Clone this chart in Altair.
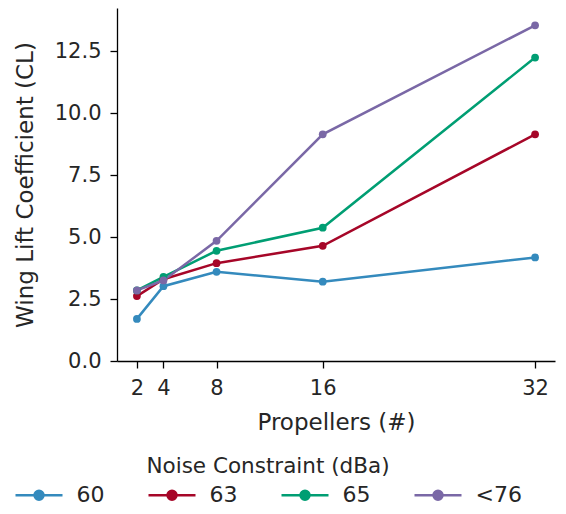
import altair as alt
import pandas as pd

propellers = [2, 4, 8, 16, 32]
series_names = ["60", "63", "65", "<76"]
cl_60 = [1.7, 3.02, 3.6, 3.2, 4.18]
cl_63 = [2.62, 3.3, 3.95, 4.65, 9.15]
cl_65 = [2.85, 3.4, 4.45, 5.38, 12.25]
cl_76 = [2.85, 3.25, 4.85, 9.15, 13.55]
colors = ["#348ABD", "#A60628", "#009E73", "#7A68A6"]
y_ticks = [0, 2.5, 5, 7.5, 10, 12.5]

rows = []
for name, vals in zip(series_names, [cl_60, cl_63, cl_65, cl_76]):
    for p, v in zip(propellers, vals):
        rows.append({"Noise": name, "Propellers": p, "CL": v})
df = pd.DataFrame(rows)

FONT = "DejaVu Sans"
TXT = "#262626"
FS = 21

legend = alt.Legend(
    title="Noise Constraint (dBa)",
    orient="none",
    legendX=-103,
    legendY=448,
    direction="horizontal",
    columns=4,
    padding=0,
    titleAnchor="middle",
    titleFont=FONT,
    titleFontSize=21.5,
    titleFontWeight="normal",
    titleColor=TXT,
    titleLimit=1000,
    titlePadding=6,
    labelFont=FONT,
    labelFontSize=22,
    labelColor=TXT,
    labelLimit=200,
    labelOffset=26,
    columnPadding=38,
    symbolType="M-2.35,0L2.35,0M0.45,0A0.45,0.45 0 1,1 -0.45,0A0.45,0.45 0 1,1 0.45,0Z",
    symbolSize=400,
    symbolOffset=13.5,
    symbolStrokeWidth=2.5,
    symbolOpacity=1,
)

scale = alt.Scale(domain=series_names, range=colors)
stroke = alt.Stroke("Noise:N", scale=scale, sort=series_names, legend=legend)
fill = alt.Fill("Noise:N", scale=scale, sort=series_names, legend=legend)

x = alt.X(
    "Propellers:Q",
    scale=alt.Scale(domain=[0.5, 33.5], nice=False, zero=False),
    axis=alt.Axis(
        title="Propellers (#)",
        values=propellers,
        grid=False,
        tickSize=7,
        labelPadding=9,
        titlePadding=13,
    ),
)
y = alt.Y(
    "CL:Q",
    scale=alt.Scale(domain=[0, 14.25], nice=False),
    axis=alt.Axis(
        title="Wing Lift Coefficient (CL)",
        values=y_ticks,
        format=".1f",
        grid=False,
        tickSize=7,
        labelPadding=9,
        titlePadding=17,
    ),
)

base = alt.Chart(df)
lines = base.mark_line(strokeWidth=2.5).encode(x=x, y=y, stroke=stroke)
points = base.mark_circle(size=60, opacity=1).encode(x=x, y=y, fill=fill)

chart = (
    alt.layer(lines, points)
    .properties(
        width=438,
        height=353,
        autosize=alt.AutoSizeParams(type="none"),
        padding={"left": 109, "top": 0, "right": 3, "bottom": 152},
    )
    .configure_view(stroke=None)
    .configure_axis(
        domainColor="#000000",
        domainWidth=1.3,
        tickColor="#000000",
        tickWidth=1.3,
        labelFont=FONT,
        labelFontSize=FS,
        labelColor=TXT,
        titleFont=FONT,
        titleFontSize=23,
        titleFontWeight="normal",
        titleColor=TXT,
    )
)

chart.save("out.html", embed_options={"renderer": "svg", "actions": False})
